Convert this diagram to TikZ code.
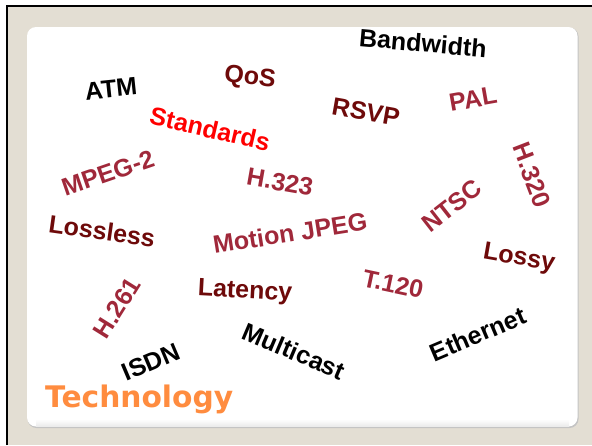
\documentclass[tikz,border=0pt]{standalone}
\usepackage{fontspec}
\setmainfont{Liberation Sans}
\newfontfamily\techfont{DejaVu Sans}
\definecolor{beige}{HTML}{E3DED3}
\definecolor{maroon}{HTML}{6E0A0A}
\definecolor{crimson}{HTML}{A0283A}
\definecolor{brightred}{HTML}{FF0000}
\definecolor{techorange}{HTML}{FF8C3F}
\definecolor{edgegray}{HTML}{C4C4C4}
\begin{document}
\begin{tikzpicture}[x=1pt,y=-1pt,
  word/.style={inner sep=0pt, font=\fontsize{25}{27}\selectfont\bfseries},
  wblack/.style={word, text=black},
  wmaroon/.style={word, text=maroon},
  wcrimson/.style={word, text=crimson},
  wred/.style={word, text=brightred},
  wtech/.style={inner sep=0pt, text=techorange, font=\techfont\fontsize{29.7}{31}\selectfont\bfseries}]
\useasboundingbox (0,0) rectangle (592,445);
% frame
\fill[beige] (8,7) rectangle (592,445);
\draw[black, line width=2pt] (7,445) -- (7,5.5) -- (592,5.5);
% white panel with soft edge
\fill[edgegray, rounded corners=9pt] (27.5,27.5) rectangle (578.5,428);
\fill[white, rounded corners=9pt] (27,27) rectangle (577.5,426.5);
\shade[top color=white, bottom color=black!8] (36,419) rectangle (569,426.4);
% words
\node[wblack, rotate=-5] (bandwidth) at (423,43) {Bandwidth};
\node[wblack, rotate=6] (atm) at (111,89) {ATM};
\node[wmaroon, rotate=-7] (qos) at (250,78) {QoS};
\node[wred, rotate=-13] (standards) at (210,129) {Standards};
\node[wmaroon, rotate=-10] (rsvp) at (366,112) {RSVP};
\node[wcrimson, rotate=10] (pal) at (473,99) {PAL};
\node[wcrimson, rotate=19] (mpeg) at (108,173) {MPEG-2};
\node[wcrimson, rotate=-10] (h323) at (280,182) {H.323};
\node[wcrimson, rotate=-69] (h320) at (532,175) {H.320};
\node[wcrimson, rotate=38] (ntsc) at (452,206) {NTSC};
\node[wmaroon, rotate=-8] (lossless) at (102,231) {Lossless};
\node[wcrimson, rotate=9] (mjpeg) at (290,233) {Motion JPEG};
\node[wmaroon, rotate=-10] (lossy) at (519,259) {Lossy};
\node[wcrimson, rotate=58] (h261) at (117,308) {H.261};
\node[wmaroon, rotate=-3] (latency) at (245,292) {Latency};
\node[wcrimson, rotate=-12] (t120) at (393,284) {T.120};
\node[wblack, rotate=-23] (multicast) at (294,351) {Multicast};
\node[wblack, rotate=23] (ethernet) at (478,334) {Ethernet};
\node[wblack, rotate=23] (isdn) at (151,362) {ISDN};
\node[wtech, anchor=west] (technology) at (45,399) {Technology};
\end{tikzpicture}
\end{document}
